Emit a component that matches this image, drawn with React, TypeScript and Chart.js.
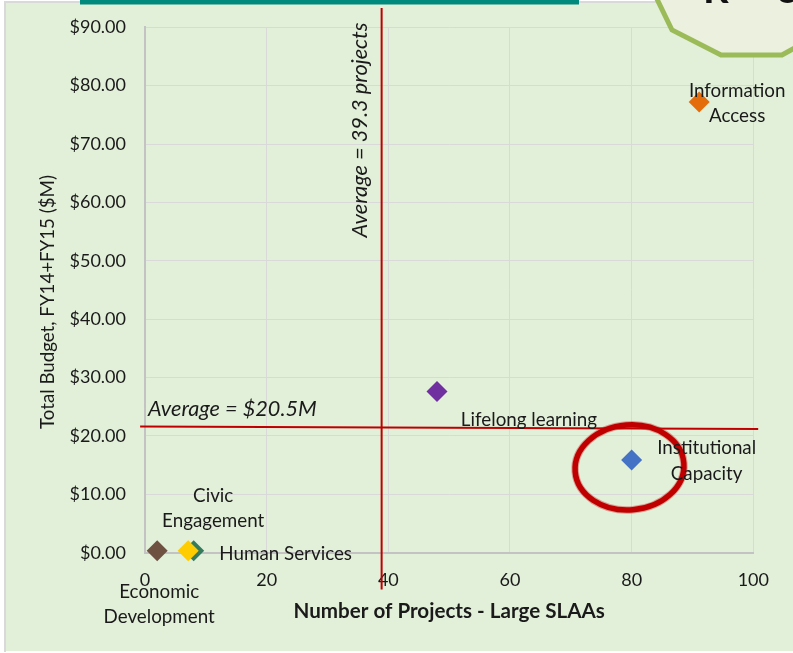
import React, { useEffect, useRef } from "react";
import { Chart, registerables } from "chart.js";

Chart.register(...registerables);

// ---- data ----
const categories = [
  "Economic Development",
  "Human Services",
  "Civic Engagement",
  "Lifelong learning",
  "Institutional Capacity",
  "Information Access",
];
const projects = [2.0, 8.0, 7.1, 48.0, 80.0, 91.1];
const budgets = [0.35, 0.35, 0.35, 27.6, 15.9, 77.2];
const pointColors = ["#6e5141", "#347a5c", "#ffcc00", "#7030a0", "#4472c4", "#e46c0a"];
const labelLines = [
  ["Economic", "Development"],
  ["Human Services"],
  ["Civic", "Engagement"],
  ["Lifelong learning"],
  ["Institutional", "Capacity"],
  ["Information", "Access"],
];

const xTicks = [0, 20, 40, 60, 80, 100];
const yTicks = [0, 10, 20, 30, 40, 50, 60, 70, 80, 90];

const avgProjectsText = "Average = 39.3 projects";
const avgBudgetText = "Average = $20.5M";
// drawn positions of the average lines (data units)
const avgProjectsLine = [
  { x: 38.9, y: 93.3 },
  { x: 38.9, y: -6.3 },
];
const avgBudgetLine = [
  { x: -0.8, y: 21.63 },
  { x: 100.8, y: 21.18 },
];
// highlight ellipse (data units)
const highlightCenter = { x: 79.65, y: 14.6 };
const highlightRadius = { x: 8.96, y: 7.28 };

const xTitle = "Number of Projects - Large SLAAs";
const yTitle = "Total Budget, FY14+FY15 ($M)";

// ---- styling (pixel offsets of labels relative to points) ----
const labelOffsets = [
  { dx: 2, dy: 41, lh: 25 },
  { dx: 92, dy: 3, lh: 25 },
  { dx: 25, dy: -55, lh: 25 },
  { dx: 92, dy: 28, lh: 25 },
  { dx: 75, dy: -12, lh: 26 },
  { dx: 38, dy: -11, lh: 25 },
];

const FONT = "Lato, 'Open Sans', sans-serif";

const decorPlugin = {
  id: "decor",
  beforeDraw(chart: any) {
    const ctx = chart.ctx;
    const W = chart.width;
    const H = chart.height;
    ctx.save();
    ctx.fillStyle = "#ffffff";
    ctx.fillRect(0, 0, W, H);
    ctx.fillStyle = "#e2efd9";
    ctx.fillRect(6, 3, W - 6, H - 5);
    ctx.strokeStyle = "#d9d9d9";
    ctx.lineWidth = 2;
    ctx.beginPath();
    ctx.moveTo(5, H - 1);
    ctx.lineTo(5, 2);
    ctx.lineTo(W, 2);
    ctx.stroke();
    ctx.fillStyle = "#008a7e";
    ctx.fillRect(80, 0, 499, 4.5);
    ctx.restore();
  },
  beforeDatasetsDraw(chart: any) {
    const ctx = chart.ctx;
    const xs = chart.scales.x;
    const ys = chart.scales.y;
    ctx.save();
    ctx.strokeStyle = "#c00000";
    ctx.lineWidth = 2;
    [avgProjectsLine, avgBudgetLine].forEach((line) => {
      ctx.beginPath();
      line.forEach((p, i) => {
        const px = xs.getPixelForValue(p.x);
        const py = ys.getPixelForValue(p.y);
        if (i === 0) ctx.moveTo(px, py);
        else ctx.lineTo(px, py);
      });
      ctx.stroke();
    });
    ctx.restore();
  },
  afterDatasetsDraw(chart: any) {
    const ctx = chart.ctx;
    const xs = chart.scales.x;
    const ys = chart.scales.y;
    ctx.save();

    // highlight ellipse
    const cx = xs.getPixelForValue(highlightCenter.x);
    const cy = ys.getPixelForValue(highlightCenter.y);
    const rx = xs.getPixelForValue(highlightCenter.x + highlightRadius.x) - cx;
    const ry = cy - ys.getPixelForValue(highlightCenter.y + highlightRadius.y);
    ctx.strokeStyle = "rgba(200,20,20,0.35)";
    ctx.lineWidth = 7.5;
    ctx.beginPath();
    ctx.ellipse(cx, cy, rx, ry, -0.08, 0, Math.PI * 2);
    ctx.stroke();
    ctx.strokeStyle = "#c00000";
    ctx.lineWidth = 5.5;
    ctx.beginPath();
    ctx.ellipse(cx, cy, rx, ry, -0.08, 0, Math.PI * 2);
    ctx.stroke();

    // point labels
    ctx.fillStyle = "#1a1a1a";
    ctx.font = `18.8px ${FONT}`;
    ctx.textAlign = "center";
    ctx.textBaseline = "middle";
    categories.forEach((_, i) => {
      const px = xs.getPixelForValue(projects[i]);
      const py = ys.getPixelForValue(budgets[i]);
      const o = labelOffsets[i];
      labelLines[i].forEach((line, j) => {
        ctx.fillText(line, px + o.dx, py + o.dy + j * o.lh);
      });
    });

    // average labels
    ctx.font = `italic 21.7px ${FONT}`;
    ctx.textAlign = "left";
    ctx.fillText(avgBudgetText, 148, 409);
    ctx.save();
    ctx.translate(360, 130);
    ctx.rotate(-Math.PI / 2);
    ctx.textAlign = "center";
    ctx.font = `italic 21.8px ${FONT}`;
    ctx.fillText(avgProjectsText, 0, 0);
    ctx.restore();

    // y title
    ctx.save();
    ctx.font = `18.7px ${FONT}`;
    ctx.translate(48, 302);
    ctx.rotate(-Math.PI / 2);
    ctx.textAlign = "center";
    ctx.fillText(yTitle, 0, 0);
    ctx.restore();

    // decorative octagon in the corner
    ctx.fillStyle = "#ebf0df";
    ctx.strokeStyle = "#9bbb59";
    ctx.lineWidth = 5;
    ctx.beginPath();
    ctx.moveTo(655, -5);
    ctx.lineTo(672, 30);
    ctx.lineTo(721, 55);
    ctx.lineTo(782, 55);
    ctx.lineTo(805, 42);
    ctx.lineTo(805, -5);
    ctx.closePath();
    ctx.fill();
    ctx.stroke();
    ctx.fillStyle = "#111";
    ctx.font = `bold 40px ${FONT}`;
    ctx.textBaseline = "alphabetic";
    ctx.textAlign = "left";
    ctx.fillText("R", 703, 3);
    ctx.fillText("o", 776, 3);

    ctx.restore();
  },
};

export default function App() {
  const ref = useRef<HTMLCanvasElement | null>(null);
  useEffect(() => {
    document.body.style.margin = "0";
    const canvas = ref.current!;
    const chart = new Chart(canvas, {
      type: "scatter",
      data: {
        datasets: [
          {
            label: "Areas",
            data: projects.map((x, i) => ({ x, y: budgets[i] })),
            pointStyle: "rectRot",
            pointRadius: 10.5,
            pointBorderWidth: 0,
            pointBackgroundColor: pointColors,
            pointBorderColor: pointColors,
            clip: false,
          } as any,
        ],
      },
      options: {
        animation: false,
        responsive: false,
        devicePixelRatio: 1,
        layout: { padding: { top: 27.3, right: 39.7, left: 0, bottom: 0 } },
        plugins: { legend: { display: false }, tooltip: { enabled: false } },
        scales: {
          x: {
            type: "linear",
            min: 0,
            max: 100,
            afterBuildTicks: (s: any) => {
              s.ticks = xTicks.map((v) => ({ value: v }));
            },
            afterFit: (s: any) => {
              s.height = 100.3;
              s.paddingLeft = 0;
              s.paddingRight = 0;
            },
            ticks: {
              color: "#1a1a1a",
              font: { family: FONT, size: 18 },
              padding: 17,
              maxRotation: 0,
            },
            grid: { color: "#d9d9d9", lineWidth: 1, drawTicks: false },
            border: { color: "#c3c3c3", width: 2 },
            title: {
              display: true,
              text: xTitle,
              color: "#1a1a1a",
              font: { family: FONT, size: 20.6, weight: "bold" },
              padding: { top: 0, bottom: 29 },
            },
          },
          y: {
            type: "linear",
            min: 0,
            max: 90,
            afterBuildTicks: (s: any) => {
              s.ticks = yTicks.map((v) => ({ value: v }));
            },
            afterFit: (s: any) => {
              s.width = 145;
              s.paddingTop = 0;
              s.paddingBottom = 0;
            },
            ticks: {
              color: "#1a1a1a",
              font: { family: FONT, size: 18 },
              padding: 19,
              callback: (v: any) => "$" + Number(v).toFixed(2),
            },
            grid: { color: "#d9d9d9", lineWidth: 1, drawTicks: false },
            border: { color: "#c3c3c3", width: 2 },
          },
        },
      } as any,
      plugins: [decorPlugin],
    });
    return () => chart.destroy();
  }, []);
  return (
    <canvas
      ref={ref}
      width={793}
      height={653}
      style={{ display: "block", width: 793, height: 653 }}
    />
  );
}
